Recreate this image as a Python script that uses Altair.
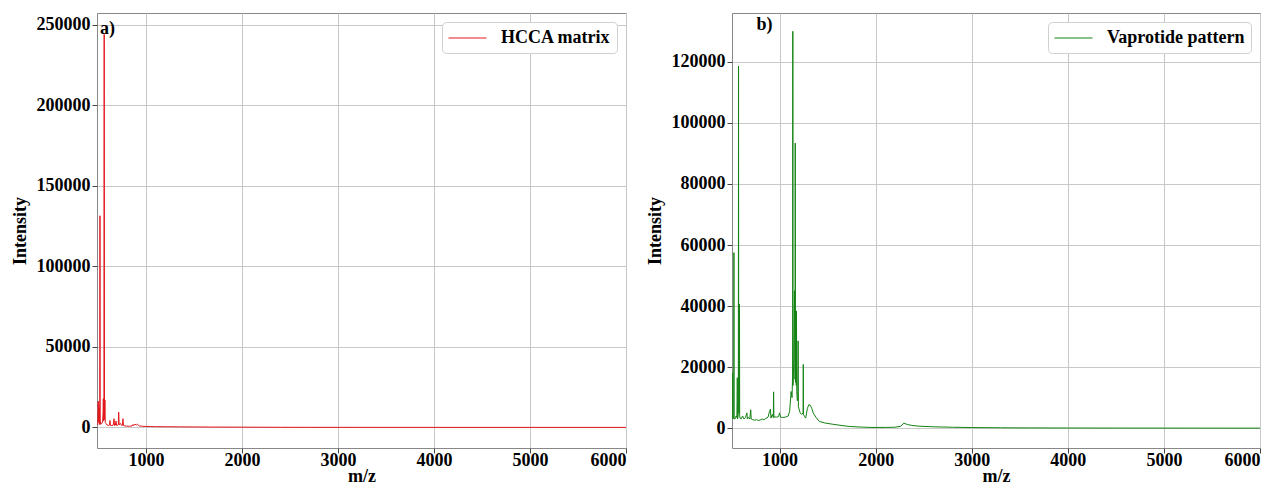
import altair as alt
import pandas as pd

# ---------------- data ----------------
x_ticks = [1000, 2000, 3000, 4000, 5000, 6000]

hcca_name = "HCCA matrix"
hcca_mz = [498, 501, 503, 505, 508, 510, 513, 517, 519, 521,
           523, 527, 533, 540, 548, 553, 556, 559, 562, 565,
           568, 571, 573, 576, 582, 595, 612, 620, 625, 630,
           645, 660, 667, 673, 682, 688, 694, 705, 712, 716,
           721, 735, 745, 755, 760, 766, 780, 800, 830, 855,
           865, 872, 885, 900, 910, 930, 960, 1000, 1050, 1100,
           1200, 1350, 1500, 1700, 2000, 2200, 2400, 2700, 3000, 3500,
           4000, 4500, 5000, 5500, 6000]
hcca_int = [1500, 9000, 16200, 4000, 14000, 3000, 12000, 2500, 1800, 131400,
            2000, 3500, 2000, 2500, 3000, 9000, 17900, 4000, 6000, 244000,
            5000, 16000, 17000, 3000, 2500, 1500, 1200, 1400, 4300, 1300,
            1100, 1500, 5400, 1200, 1400, 3900, 1200, 1500, 1800, 9400,
            1500, 2500, 1200, 1300, 5400, 1200, 900, 800, 700, 900,
            1800, 1100, 2000, 1500, 2000, 900, 700, 600, 500, 450,
            400, 320, 260, 200, 150, 100, 60, 30, 20, 10,
            0, 0, 0, 0, 0]
hcca_y_ticks = [0, 50000, 100000, 150000, 200000, 250000]

vap_name = "Vaprotide pattern"
vap_mz = [505, 507, 508, 510, 514, 520, 523, 525, 527, 532,
          540, 548, 556, 558, 560, 562, 566, 571, 573, 575,
          578, 581, 583, 585, 590, 600, 615, 630, 645, 660,
          665, 675, 690, 700, 705, 720, 740, 760, 780, 800,
          820, 840, 860, 880, 895, 905, 910, 925, 935, 938,
          941, 950, 970, 990, 1000, 1010, 1030, 1060, 1090, 1105,
          1120, 1130, 1136, 1138, 1140, 1148, 1155, 1161, 1163, 1166,
          1170, 1174, 1176, 1179, 1185, 1190, 1193, 1196, 1205, 1215,
          1230, 1245, 1247, 1249, 1260, 1272, 1290, 1305, 1320, 1335,
          1350, 1380, 1414, 1470, 1550, 1640, 1724, 1850, 1962, 2100,
          2200, 2260, 2293, 2330, 2376, 2450, 2600, 2800, 3000, 3300,
          3600, 4000, 4500, 5000, 5500, 6000]
vap_int = [3000, 9000, 18100, 3500, 3000, 3200, 4000, 57500, 3500, 3000,
           3200, 4000, 3500, 8000, 16500, 3000, 3500, 5000, 118600, 6000,
           5000, 12000, 40600, 4000, 3200, 3000, 4000, 3000, 3500, 5000,
           3000, 3500, 3000, 6000, 3000, 2800, 2600, 2800, 2500, 2700,
           3000, 2800, 3200, 3600, 5500, 6200, 3300, 4500, 3500, 11900,
           3500, 3700, 3600, 3800, 5000, 3600, 3500, 3600, 4000, 5500,
           12000, 10000, 18000, 130000, 14000, 22000, 45000, 16000, 93400, 15000,
           20000, 14000, 38400, 12000, 9000, 10000, 28600, 7000, 6000, 5000,
           4500, 5000, 20900, 4500, 3800, 3300, 6500, 7700, 7500, 6500,
           5000, 3500, 2200, 1700, 1300, 900, 560, 350, 230, 250,
           300, 600, 1650, 1200, 900, 650, 450, 300, 200, 120,
           80, 50, 30, 20, 10, 0]
vap_y_ticks = [0, 20000, 40000, 60000, 80000, 100000, 120000]

FONT = "Liberation Serif"


def panel(mz, inten, name, color, xdom, ydom, yticks, tag, tag_x, tag_y, w):
    df = pd.DataFrame({"mz": mz, "intensity": inten, "series": name})
    line = alt.Chart(df).mark_line(strokeWidth=1, clip=True).encode(
        x=alt.X("mz:Q",
                scale=alt.Scale(domain=xdom, nice=False, zero=False),
                axis=alt.Axis(values=x_ticks, format="d", title="m/z")),
        y=alt.Y("intensity:Q",
                scale=alt.Scale(domain=ydom, nice=False, zero=False),
                axis=alt.Axis(values=yticks, format="d", title="Intensity")),
        color=alt.Color("series:N",
                        scale=alt.Scale(domain=[name], range=[color]),
                        legend=alt.Legend(title=None, orient="top-right", offset=9,
                                          padding=6, cornerRadius=4,
                                          strokeColor="#d0d0d0", fillColor="white",
                                          symbolType="M-1,0H3", symbolSize=361,
                                          symbolStrokeWidth=1,
                                          symbolStrokeColor=color,
                                          symbolFillColor="transparent",
                                          labelOffset=33,
                                          labelFont=FONT, labelFontSize=18,
                                          labelFontWeight="bold", labelColor="black")),
        order="mz:Q",
    )
    tdf = pd.DataFrame({"mz": [tag_x], "intensity": [tag_y], "t": [tag]})
    txt = alt.Chart(tdf).mark_text(align="left", baseline="middle", font=FONT,
                                   fontSize=18, fontWeight="bold",
                                   color="black").encode(
        x="mz:Q", y="intensity:Q", text="t:N")
    return alt.layer(line, txt).properties(width=w, height=435)


left = panel(hcca_mz, hcca_int, hcca_name, "#e3161c", [490, 6000], [-12800, 257300],
             hcca_y_ticks, "a)", 521, 247600, 529)
right = panel(vap_mz, vap_int, vap_name, "#128212", [505, 6000], [-6500, 136000],
              vap_y_ticks, "b)", 760, 132200, 528)

chart = alt.hconcat(left, right, spacing=18).resolve_scale(
    color="independent").resolve_legend(color="independent").properties(
    padding={"left": 2, "top": 4, "right": 2, "bottom": 0}
).configure_view(
    stroke="#888888", strokeWidth=1
).configure_axis(
    domain=False,
    grid=True, gridColor="#c8c8c8", gridWidth=1,
    ticks=True, tickColor="#444444", tickSize=5, tickWidth=1,
    labelFont=FONT, labelFontSize=18, labelFontWeight="bold", labelColor="black",
    labelPadding=2,
    titleFont=FONT, titleFontSize=18, titleFontWeight="bold", titleColor="black",
).configure_axisX(
    labelPadding=-2, titlePadding=-2
).configure_axisY(
    titlePadding=7
)

chart.save("out.html", embed_options={"renderer": "svg", "actions": False})
